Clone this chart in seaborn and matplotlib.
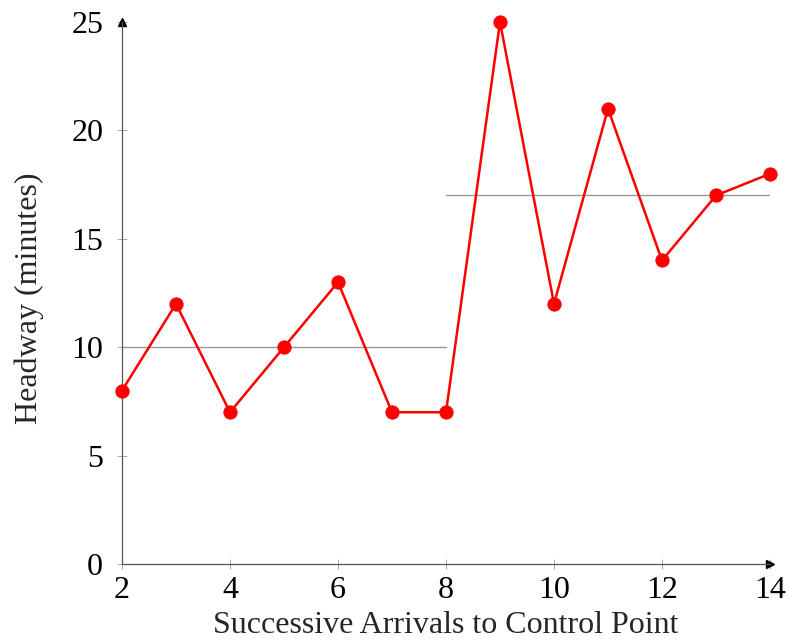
import matplotlib
matplotlib.use("Agg")
import matplotlib.pyplot as plt
import seaborn as sns
import pandas as pd

arrivals = [2, 3, 4, 5, 6, 7, 8, 9, 10, 11, 12, 13, 14]
headway = [8, 12, 7, 10, 13, 7, 7, 25, 12, 21, 14, 17, 18]
mean1_x = [2, 8]
mean1_y = [10, 10]
mean2_x = [8, 14]
mean2_y = [17, 17]
xticks = [2, 4, 6, 8, 10, 12, 14]
yticks = [0, 5, 10, 15, 20, 25]

sns.set_style("white")
plt.rcParams['font.family'] = ['Liberation Serif', 'DejaVu Serif']

fig = plt.figure(figsize=(7.88, 6.42), dpi=100)
ax = fig.add_axes([122/788, 1 - 564/642, (770-122)/788, (564-22)/642])

df = pd.DataFrame({"x": arrivals, "y": headway})
sns.lineplot(x=mean1_x, y=mean1_y, ax=ax, color="#999999", linewidth=1.0)
sns.lineplot(x=mean2_x, y=mean2_y, ax=ax, color="#999999", linewidth=1.0)
sns.lineplot(data=df, x="x", y="y", ax=ax, color="red", linewidth=1.8,
             marker="o", markersize=9.5, markeredgecolor="red", clip_on=False,
             zorder=5)

ax.set_xlim(2, 14)
ax.set_ylim(0, 25)
ax.set_xticks(xticks)
ax.set_yticks(yticks)
ax.tick_params(axis="both", bottom=True, left=True, direction="inout",
               length=7, width=0.6, color="#999999", labelcolor="black",
               labelsize=23)
ax.tick_params(axis="x", pad=5)
ax.tick_params(axis="y", pad=10)
for s in ["top", "right"]:
    ax.spines[s].set_visible(False)
for s in ["left", "bottom"]:
    ax.spines[s].set_color("#555555")
    ax.spines[s].set_linewidth(0.9)

ax.plot(1, 0, marker=">", color="black", markersize=6,
        transform=ax.transAxes, clip_on=False)
ax.plot(0, 1, marker="^", color="black", markersize=6,
        transform=ax.transAxes, clip_on=False)

ax.set_xlabel("Successive Arrivals to Control Point", fontsize=23)
ax.set_ylabel("Headway (minutes)", fontsize=23)
ax.xaxis.set_label_coords(0.5, -0.086)
ax.yaxis.set_label_coords(-0.12, 0.49)

fig.savefig("out.png", dpi=100)
